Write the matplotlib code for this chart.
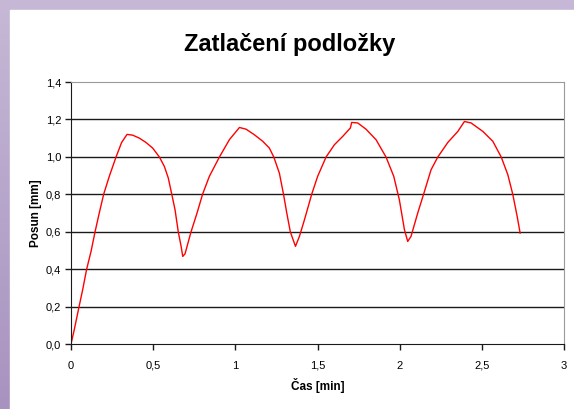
import numpy as np
import matplotlib.pyplot as plt
from matplotlib.ticker import FuncFormatter
from matplotlib.colors import LinearSegmentedColormap

# values
cas = [0.0, 0.020, 0.045, 0.071, 0.095, 0.122, 0.146, 0.172, 0.199, 0.233,
       0.274, 0.308, 0.341, 0.375, 0.416, 0.456, 0.497, 0.538, 0.568, 0.592,
       0.613, 0.633, 0.653, 0.670, 0.680, 0.694, 0.730, 0.767, 0.801, 0.842,
       0.903, 0.964, 1.025, 1.065, 1.116, 1.167, 1.207, 1.234, 1.268, 1.293,
       1.313, 1.335, 1.366, 1.390, 1.421, 1.465, 1.501, 1.552, 1.603, 1.653,
       1.700, 1.708, 1.745, 1.795, 1.856, 1.917, 1.964, 1.998, 2.029, 2.049,
       2.069, 2.110, 2.149, 2.191, 2.232, 2.293, 2.354, 2.394, 2.435, 2.506,
       2.567, 2.618, 2.658, 2.688, 2.715, 2.733]
posun = [0.0, 0.077, 0.183, 0.290, 0.399, 0.495, 0.598, 0.700, 0.801, 0.896,
         0.999, 1.077, 1.120, 1.116, 1.100, 1.077, 1.047, 0.999, 0.949, 0.887,
         0.801, 0.718, 0.598, 0.522, 0.468, 0.482, 0.598, 0.700, 0.801, 0.896,
         0.999, 1.092, 1.157, 1.148, 1.118, 1.083, 1.047, 0.999, 0.913, 0.801,
         0.700, 0.598, 0.522, 0.575, 0.665, 0.801, 0.896, 0.999, 1.065, 1.109,
         1.154, 1.184, 1.181, 1.148, 1.092, 0.999, 0.896, 0.771, 0.611, 0.548,
         0.575, 0.700, 0.810, 0.931, 0.999, 1.077, 1.136, 1.189, 1.181, 1.136,
         1.083, 0.999, 0.905, 0.801, 0.682, 0.593]
xticks = [0, 0.5, 1, 1.5, 2, 2.5, 3]
yticks = [0.0, 0.2, 0.4, 0.6, 0.8, 1.0, 1.2, 1.4]

font = 'Liberation Sans'
W, H = 574, 409
fig = plt.figure(figsize=(W / 100, H / 100), dpi=100)
fig.patch.set_facecolor('#c4b4d4')

# purple border with slight gradient, white sheet inside
bg = fig.add_axes([0, 0, 1, 1], zorder=-10)
grad = np.linspace(0, 1, 256).reshape(-1, 1)
cm = LinearSegmentedColormap.from_list('p', ['#c6b8d6', '#a893c0'])
bg.imshow(grad, aspect='auto', cmap=cm, extent=[0, 1, 0, 1], origin='upper')
bg.add_patch(plt.Rectangle((10 / W, 0), 1, 1 - 10 / H, color='white'))
bg.set_xlim(0, 1)
bg.set_ylim(0, 1)
bg.axis('off')

ax = fig.add_axes([71 / W, 1 - 344 / H, (564 - 71) / W, (344 - 82) / H])
ax.plot(cas, posun, color='#ff0000', lw=1.0)

ax.set_xlim(0, 3)
ax.set_ylim(0, 1.4)
ax.set_xticks(xticks)
ax.set_yticks(yticks)
ax.xaxis.set_major_formatter(FuncFormatter(lambda v, p: ('%g' % v).replace('.', ',')))
ax.yaxis.set_major_formatter(FuncFormatter(lambda v, p: ('%.1f' % v).replace('.', ',')))
for y in yticks[1:-1]:
    ax.axhline(y, color='#1a1a1a', lw=1.0, zorder=0)

for s in ['top', 'right']:
    ax.spines[s].set_color('#9a9a9a')
for s in ['left', 'bottom']:
    ax.spines[s].set_color('#1a1a1a')
ax.tick_params(direction='out', length=4, width=1, color='#1a1a1a', labelsize=8, pad=3)
for lab in ax.get_xticklabels() + ax.get_yticklabels():
    lab.set_fontfamily(font)
ax.tick_params(axis='x', pad=8)

ax.set_xlabel('Čas [min]', fontsize=8.5, fontweight='bold', family=font, labelpad=5)
ax.set_ylabel('Posun [mm]', fontsize=8.5, fontweight='bold', family=font, labelpad=3)
fig.text(290 / W, 1 - 45 / H, 'Zatlačení podložky', ha='center', va='center',
         fontsize=17, fontweight='bold', family=font)

fig.savefig('out.png', dpi=100, facecolor=fig.get_facecolor())
